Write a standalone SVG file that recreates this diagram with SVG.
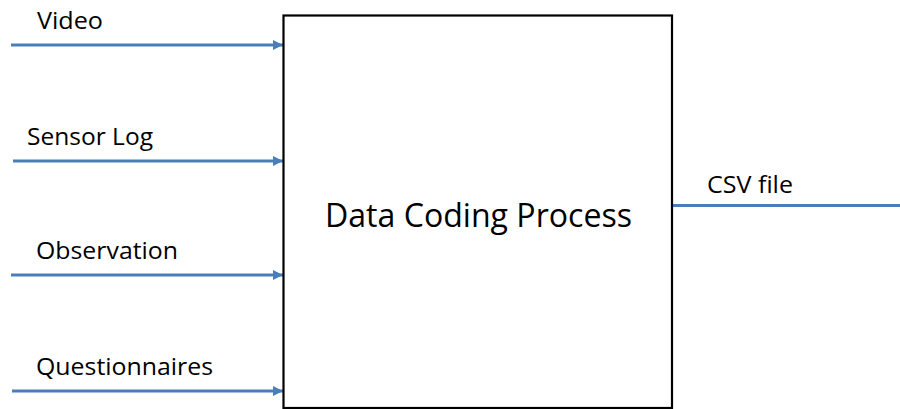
<svg xmlns="http://www.w3.org/2000/svg" width="900" height="409" viewBox="0 0 900 409">
<style>
text{font-family:"Open Sans","Noto Sans",sans-serif;fill:#000}
.lbl{font-size:23px}
.ttl{font-size:32px}
.con{stroke:#4a7ebb;stroke-width:3;fill:none}
</style>
<defs>
<marker id="ah" viewBox="0 0 10 10" refX="10" refY="5" markerWidth="10" markerHeight="10" markerUnits="userSpaceOnUse" orient="auto">
<path d="M0,0 L10,5 L0,10 Z" fill="#4a7ebb"/>
</marker>
</defs>
<rect width="900" height="409" fill="#fff"/>
<g id="connectors">
<line class="con" x1="11" y1="45" x2="283" y2="45" marker-end="url(#ah)"/>
<line class="con" x1="13" y1="161" x2="283" y2="161" marker-end="url(#ah)"/>
<line class="con" x1="11" y1="275" x2="283" y2="275" marker-end="url(#ah)"/>
<line class="con" x1="12" y1="391" x2="283" y2="391" marker-end="url(#ah)"/>
<line class="con" x1="672" y1="205.5" x2="900" y2="205.5"/>
</g>
<g id="process">
<rect x="283.5" y="15.5" width="388.5" height="392.5" fill="none" stroke="#000" stroke-width="2.2"/>
<text class="ttl" x="325" y="226.5" textLength="307" lengthAdjust="spacingAndGlyphs">Data Coding Process</text>
</g>
<g id="label-video"><text class="lbl" x="37" y="29" textLength="66" lengthAdjust="spacingAndGlyphs">Video</text></g>
<g id="label-sensor"><text class="lbl" x="27" y="145" textLength="126" lengthAdjust="spacingAndGlyphs">Sensor Log</text></g>
<g id="label-observation"><text class="lbl" x="36" y="259" textLength="142" lengthAdjust="spacingAndGlyphs">Observation</text></g>
<g id="label-questionnaires"><text class="lbl" x="36" y="375" textLength="177" lengthAdjust="spacingAndGlyphs">Questionnaires</text></g>
<g id="label-csv"><text class="lbl" x="707" y="193" textLength="86" lengthAdjust="spacingAndGlyphs">CSV file</text></g>
</svg>
